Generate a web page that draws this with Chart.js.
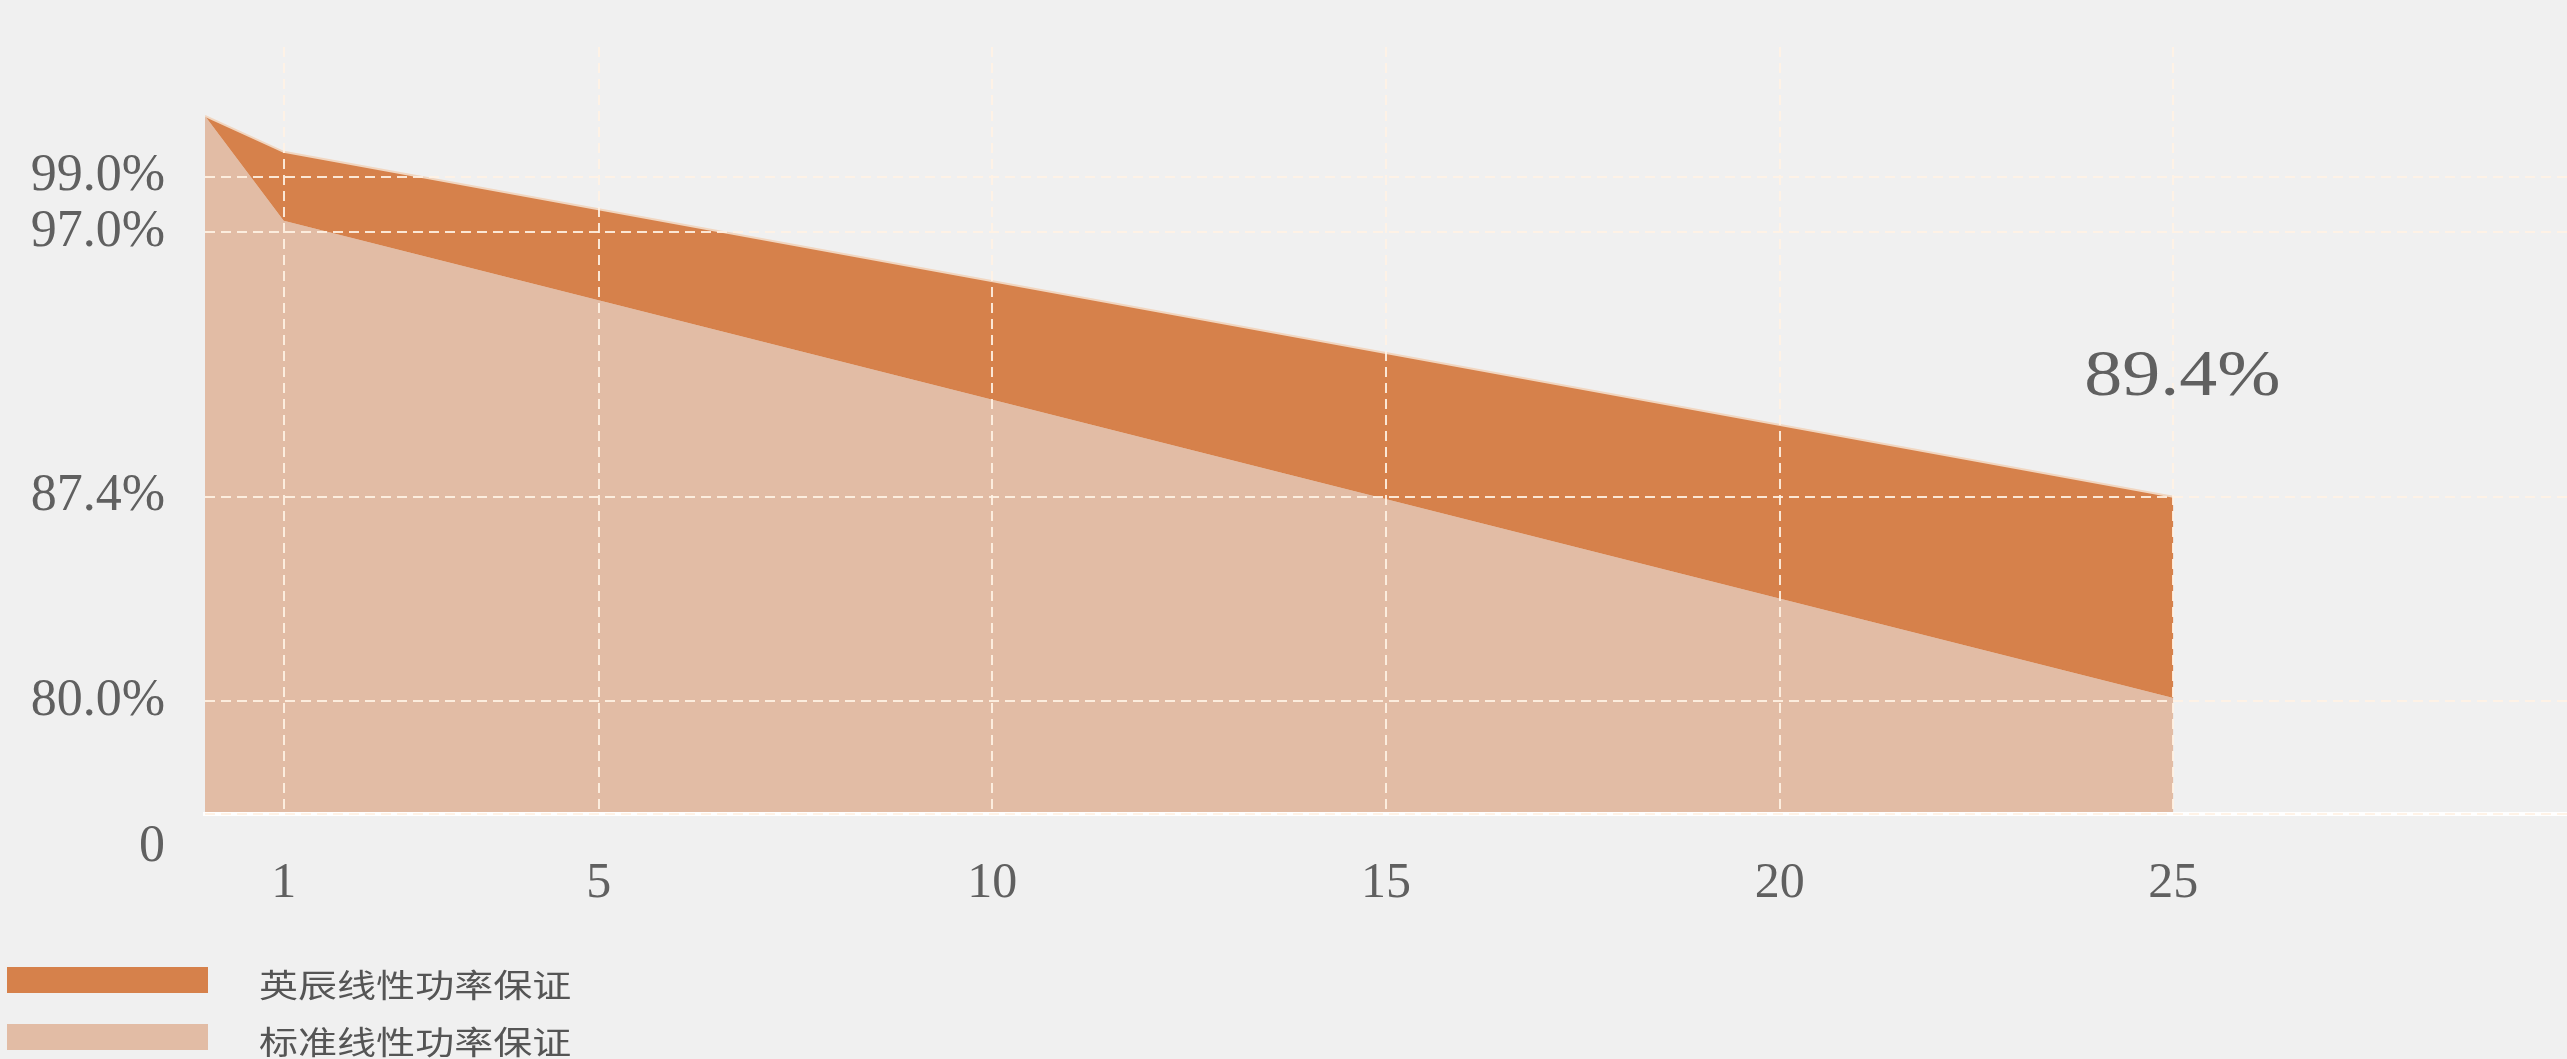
<!DOCTYPE html>
<html lang="zh-CN">
<head>
  <meta charset="UTF-8">
  <title>线性功率保证</title>
  <script src="https://cdn.jsdelivr.net/npm/chart.js"></script>
  <style>
    html, body { margin: 0; padding: 0; background: #f0f0f0; }
    #wrap { position: relative; width: 2567px; height: 1059px; overflow: hidden; }
    #legend { position: absolute; left: 7px; top: 967px; display: flex; flex-direction: column; gap: 31px; }
    #legend .item { display: flex; align-items: center; height: 26px; }
    #legend .box { width: 201px; height: 26px; flex: none; }
    #legend .txt { margin-left: 51px; position: relative; top: 3px; font-family: "Noto Sans CJK SC", sans-serif;
                   font-size: 32px; color: #555; white-space: nowrap;
                   transform: scaleX(1.22); transform-origin: left center; }
  </style>
</head>
<body>
  <div id="wrap">
    <canvas id="powerChart"></canvas>
    <div id="legend"></div>
  </div>

  <script>
    // data (years, % of nominal power)
    const years = [0, 1, 25];
    const yingchen = [101.2, 99.9, 87.4];
    const standard = [101.2, 97.4, 80.1];
    const seriesNames = ['英辰线性功率保证', '标准线性功率保证'];
    const seriesColors = ['#d6814b', '#e2bca5'];

    const xTicks = [1, 5, 10, 15, 20, 25];
    const yTicks = [75.9, 80, 87.4, 97, 99];
    const yTickLabels = ['0', '80.0%', '87.4%', '97.0%', '99.0%'];
    const endLabel = '89.4%';

    const serif = "'Liberation Serif', 'DejaVu Serif', serif";
    const gridColor = 'rgba(255, 242, 228, 0.9)';

    function toPoints(values) {
      return years.map((x, i) => ({ x: x, y: values[i] }));
    }

    // label "89.4%" above the end of the upper band
    const endLabelPlugin = {
      id: 'endLabel',
      afterDraw(chart) {
        const { ctx, scales } = chart;
        const last = years.length - 1;
        const x = scales.x.getPixelForValue(years[last]) + 9;
        const y = scales.y.getPixelForValue(yingchen[last]) - 119;
        ctx.save();
        ctx.translate(x, y);
        ctx.scale(1.15, 1);
        ctx.font = '66px ' + serif;
        ctx.fillStyle = '#606060';
        ctx.textAlign = 'center';
        ctx.textBaseline = 'middle';
        ctx.fillText(endLabel, 0, 0);
        ctx.restore();
      }
    };

    const chart = new Chart(document.getElementById('powerChart'), {
      type: 'line',
      data: {
        datasets: [{
          label: seriesNames[0],
          data: toPoints(yingchen),
          backgroundColor: seriesColors[0],
          borderColor: '#f1d6c0',
          borderWidth: 2,
          pointRadius: 0,
          fill: '+1'
        }, {
          label: seriesNames[1],
          data: toPoints(standard),
          backgroundColor: seriesColors[1],
          borderWidth: 0,
          pointRadius: 0,
          fill: 'start'
        }]
      },
      options: {
        responsive: true,
        maintainAspectRatio: false,
        animation: false,
        layout: { padding: { top: 47, left: 0, right: 0, bottom: 0 } },
        plugins: {
          legend: { display: false },
          tooltip: { enabled: false }
        },
        scales: {
          x: {
            type: 'linear',
            min: 0,
            max: 30,
            afterBuildTicks: s => { s.ticks = xTicks.map(v => ({ value: v })); },
            afterFit: s => { s.height = 245; },
            grid: { color: gridColor, lineWidth: 2, drawTicks: false, z: 1 },
            border: { display: true, color: '#ffffff', width: 4, dash: [10, 6], z: 1 },
            ticks: {
              padding: 40,
              autoSkip: false,
              maxRotation: 0,
              color: '#606060',
              font: { family: serif, size: 50 },
              callback: v => String(v)
            }
          },
          y: {
            min: 75.9,
            max: 103.7,
            afterBuildTicks: s => { s.ticks = yTicks.map(v => ({ value: v })); },
            afterFit: s => { s.width = 205; s.paddingTop = 0; s.paddingBottom = 0; },
            grid: { color: gridColor, lineWidth: 2, drawTicks: false, z: 1 },
            border: { display: false, dash: [10, 6] },
            ticks: {
              padding: 40,
              color: '#606060',
              font: { family: serif, size: 52, lineHeight: 1.3 },
              callback: function(v) {
                const i = yTicks.indexOf(v);
                if (i === 0) return ['', yTickLabels[0]];
                return i >= 0 ? yTickLabels[i] : '';
              }
            }
          }
        }
      },
      plugins: [endLabelPlugin]
    });

    // legend stacked at the bottom left
    const legendDiv = document.getElementById('legend');
    chart.data.datasets.forEach(ds => {
      const item = document.createElement('div');
      item.className = 'item';
      item.innerHTML = '<span class="box" style="background:' + ds.backgroundColor + '"></span>' +
                       '<span class="txt">' + ds.label + '</span>';
      legendDiv.appendChild(item);
    });
  </script>
</body>
</html>
